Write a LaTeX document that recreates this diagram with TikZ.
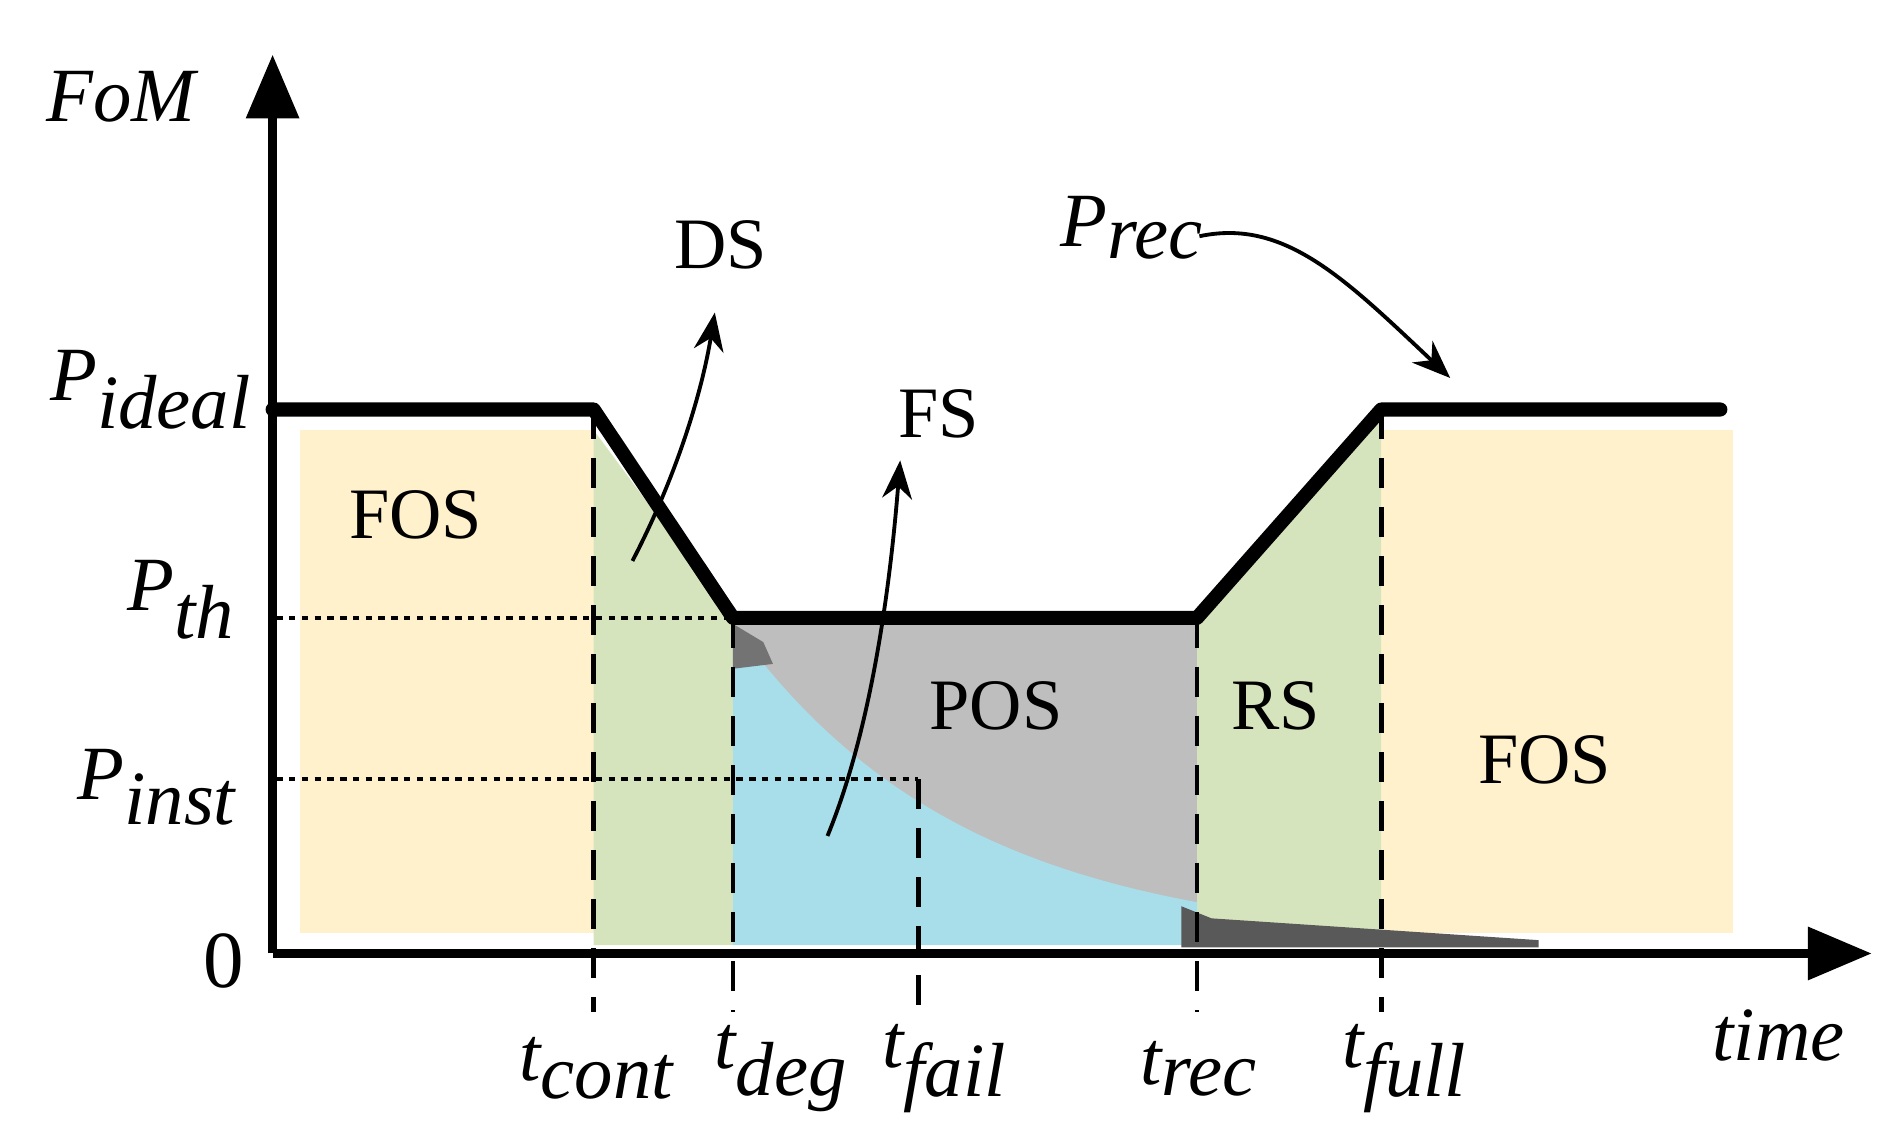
\documentclass[tikz,border=0pt]{standalone}
\usepackage{fontspec}
\setmainfont{Liberation Serif}
\usetikzlibrary{arrows.meta}
\begin{document}
\begin{tikzpicture}[x=0.01cm,y=-0.01cm,
  lbl/.style={font=\fontsize{17}{19}\selectfont},
  ilbl/.style={font=\fontsize{18}{20}\selectfont\itshape},
  dsh/.style={line width=1.1pt,dash pattern=on 7pt off 4.5pt},
  dot/.style={line width=1pt,dash pattern=on 1.5pt off 1.5pt},
  ann/.style={line width=0.9pt,-{Stealth[length=9pt,width=7pt]}}]
\useasboundingbox (0,0) rectangle (1560,937);
\definecolor{yel}{RGB}{255,241,204}
\definecolor{grn}{RGB}{214,228,190}
\definecolor{blu}{RGB}{168,222,234}
\definecolor{gry}{RGB}{190,190,190}
% fills
\fill[yel] (248,355) rectangle (490,770);
\fill[yel] (1140,355) rectangle (1430,770);
\fill[grn] (490,355) -- (605,510) -- (605,780) -- (490,780) -- cycle;
\fill[grn] (988,510) -- (1140,345) -- (1140,780) -- (988,780) -- cycle;
\fill[gry] (605,510) -- (988,510) -- (988,780) -- (605,780) -- cycle;
\fill[blu] (605,515) -- plot[domain=605:988,samples=60] (\x,{780-265*exp(-(\x-605)/190)}) -- (988,780) -- (605,780) -- cycle;
\fill[black!65] (975,748) -- (1000,758) -- (1270,776) -- (1270,782) -- (975,782) -- cycle;
\fill[black!55] (605,515) -- (630,530) -- (638,548) -- (605,552) -- cycle;
% axes
\coordinate (o) at (225,787);
\coordinate (ytip) at (225,45);
\coordinate (xtip) at (1545,787);
\draw[line width=2.2pt,-{Triangle[length=15pt,width=12pt]}] (o) -- (ytip);
\draw[line width=2.2pt,-{Triangle[length=15pt,width=12pt]}] (o) -- (xtip);
% curve
\coordinate (a) at (225,338); \coordinate (b) at (490,338);
\coordinate (c) at (605,510); \coordinate (d) at (988,510);
\coordinate (e) at (1140,338); \coordinate (f) at (1420,338);
\draw[line width=3.3pt,line join=round,line cap=round] (a) -- (b) -- (c) -- (d) -- (e) -- (f);
% dashed
\foreach \n/\x/\y in {cont/490/338,deg/605/510,rec/988/510,full/1140/338}{
  \coordinate (top\n) at (\x,\y); \coordinate (bot\n) at (\x,835);
  \draw[dsh] (top\n) -- (bot\n);}
\coordinate (pth) at (228,510); \coordinate (pin) at (228,643);
\coordinate (fk) at (758,643); \coordinate (fb) at (758,835);
\draw[dot] (pth) -- (c);
\draw[dot] (pin) -- (fk);
\draw[dsh] (fk) -- (fb);
% labels
\node[ilbl] (fom) at (100,80) {FoM};
\node[ilbl] (ti) at (1468,855) {time};
\node[ilbl] (pid) at (125,322) {P$_{\textit{ideal}}$};
\node[ilbl] (pt) at (150,495) {P$_{\textit{th}}$};
\node[ilbl] (pi) at (130,650) {P$_{\textit{inst}}$};
\node[font=\fontsize{19}{21}\selectfont] (z) at (185,793) {0};
\node[ilbl] (tc) at (493,882) {t$_{\textit{cont}}$};
\node[ilbl] (td) at (645,882) {t$_{\textit{deg}}$};
\node[ilbl] (tf) at (780,882) {t$_{\textit{fail}}$};
\node[ilbl] (tr) at (990,882) {t$_{\textit{rec}}$};
\node[ilbl] (tfu) at (1160,882) {t$_{\textit{full}}$};
\node[ilbl] (pr) at (935,188) {P$_{\textit{rec}}$};
\node[lbl] (ds) at (595,202) {DS};
\node[lbl] (fs) at (775,342) {FS};
\node[lbl] (pos) at (822,583) {POS};
\node[lbl] (rs) at (1053,583) {RS};
\node[lbl] (fos1) at (343,425) {FOS};
\node[lbl] (fos2) at (1275,627) {FOS};
% annotation arrows
\coordinate (dsa) at (522,463); \coordinate (dsb) at (590,258);
\coordinate (fsa) at (683,690); \coordinate (fsb) at (743,380);
\coordinate (pra) at (990,195); \coordinate (prb) at (1197,312);
\draw[ann] (dsa) .. controls (560,390) and (580,320) .. (dsb);
\draw[ann] (fsa) .. controls (720,600) and (735,480) .. (fsb);
\draw[ann] (pra) .. controls (1060,180) and (1110,230) .. (prb);
\end{tikzpicture}
\end{document}
